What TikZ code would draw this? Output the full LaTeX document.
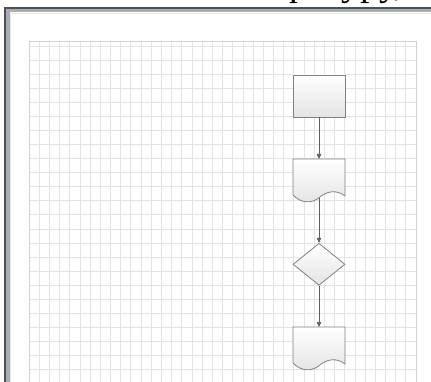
\documentclass[tikz,border=0pt]{standalone}
\usepackage{fontspec}
\newfontfamily\serifru{Liberation Serif}
\usetikzlibrary{arrows.meta,shapes.geometric}
\definecolor{shapeline}{HTML}{808080}
\definecolor{shapebot}{HTML}{E4E4E4}
\definecolor{connline}{HTML}{5E5E5E}
\definecolor{framedark}{HTML}{4E5054}
\definecolor{framegrey}{HTML}{A7ADB3}
\definecolor{gridc}{HTML}{E3E3E3}
\definecolor{gridedge}{HTML}{D2D2D2}
\definecolor{innerline}{HTML}{E8E8E8}
\begin{document}
\begin{tikzpicture}[x=1pt,y=-1pt,
  shp/.style={draw=shapeline, line width=0.8pt, top color=white, bottom color=shapebot},
  conn/.style={draw=connline, line width=0.7pt, -{Triangle[length=5pt,width=4.5pt]}},
  anch/.style={inner sep=0pt, outer sep=0pt, minimum width=52pt},
  gridline/.style={draw=gridc, line width=0.7pt},
]
\useasboundingbox (0,0) rectangle (431,382);
% top text (only descenders visible)
\node[anchor=base west, inner sep=0pt, font=\serifru\fontsize{38}{38}\selectfont] (txt) at (281,-4) {фигуру,};
% window frame
\fill[framegrey] (4,8) rectangle (431,382);
\fill[white] (9.5,12.5) rectangle (431,382);
\draw[innerline, line width=0.6pt] (10.5,382) -- (10.5,13.2) -- (431,13.2);
\draw[framedark, line width=1.6pt] (4.8,382) -- (4.8,8.3) -- (431,8.3);
% grid
\fill[white] (29,41) rectangle (416,382);
\foreach \i in {1,...,37} \draw[gridline] (29+\i*10.184,41) -- (29+\i*10.184,382);
\foreach \j in {0,...,24} \draw[gridline] (29,46+\j*14.07) -- (416,46+\j*14.07);
\draw[gridedge, line width=0.8pt] (29,382) -- (29,41) -- (416,41) -- (416,382);
% shapes
\node[shp, rectangle, minimum width=52pt, minimum height=42pt, inner sep=0pt] (r1) at (319,96) {};
\node[anch, minimum height=39pt] (d1) at (319,178.5) {};
\begin{scope}[shift={(d1.north west)}]
\path[shp] (0,0) -- (52,0) -- (52,37) .. controls (44,30.5) and (34,32) .. (27,38) .. controls (19,45) and (8,44.5) .. (0,36) -- cycle;
\end{scope}
\node[shp, diamond, minimum width=52pt, minimum height=42pt, inner sep=0pt] (k1) at (319,264.3) {};
\node[anch, minimum height=39pt] (d2) at (319,346.5) {};
\begin{scope}[shift={(d2.north west)}]
\path[shp] (0,0) -- (52,0) -- (52,37) .. controls (44,30.5) and (34,32) .. (27,38) .. controls (19,45) and (8,44.5) .. (0,36) -- cycle;
\end{scope}
% connectors
\draw[conn] (r1.south) -- (d1.north);
\draw[conn] (d1.south) -- (k1.north);
\draw[conn] (k1.south) -- (d2.north);
\end{tikzpicture}
\end{document}
